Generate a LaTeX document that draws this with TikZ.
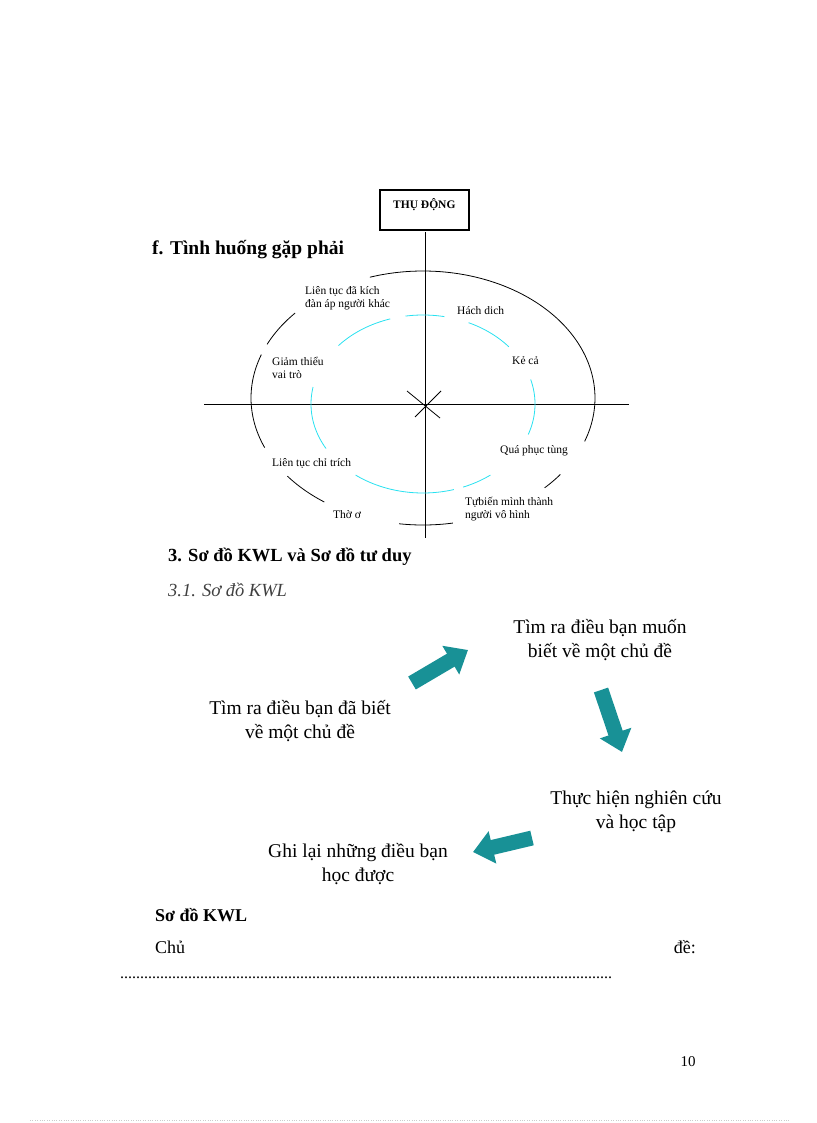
\documentclass[tikz,border=0pt]{standalone}
\usepackage{fontspec}
\setmainfont{Liberation Serif}
\usetikzlibrary{arrows.meta}
\definecolor{teal2}{RGB}{24,145,150}
\definecolor{cy}{RGB}{40,225,240}
\begin{document}
\begin{tikzpicture}[x=1pt,y=-1pt,
  lbl/.style={font=\fontsize{11.5}{13.5}\selectfont,align=left,inner sep=0pt,anchor=west},
  kwl/.style={font=\fontsize{19.5}{24}\selectfont,align=center,inner sep=0pt},
  head/.style={font=\fontsize{18.5}{22}\selectfont\bfseries,inner sep=0pt,anchor=west},
  bigarrow/.style={teal2,line width=15pt,-{Triangle[width=32pt,length=20pt]}},
  blk/.style={black,line width=0.8pt},
  cyn/.style={cy,line width=0.8pt}]
\useasboundingbox (0,0) rectangle (816,1123);
% box
\node[draw,line width=1.6pt,minimum width=89pt,minimum height=40pt,font=\fontsize{11.5}{13}\selectfont\bfseries,anchor=north west,text depth=13pt] (box) at (379,189) {THỤ ĐỘNG};
% axes
\coordinate (vt) at (425,232); \coordinate (vb) at (425,538);
\coordinate (hl) at (204,404); \coordinate (hr) at (629,404);
\draw[blk] (vt) -- (vb);
\draw[blk] (hl) -- (hr);
\coordinate (x1) at (407,391); \coordinate (x2) at (440,418);
\coordinate (x3) at (415,417); \coordinate (x4) at (441,391);
\draw[blk] (x1) -- (x2); \draw[blk] (x3) -- (x4);
% black ellipse arcs
\foreach \a/\b in {108/-20, -37/-45, -98/-80, -142/-125, 160/203, 138/155}
  \draw[blk,domain=\a:\b,samples=40,smooth] plot ({423+172*cos(\x)},{398-127*sin(\x)});
% cyan ellipse arcs
\foreach \a/\b in {79/99, 40/66, -20/16, -69/-53, -127/-74, 169/210, 107/139}
  \draw[cyn,domain=\a:\b,samples=40,smooth] plot ({423+112*cos(\x)},{404-89*sin(\x)});
% labels
\node[lbl] (l1) at (305,298) {Liên tục đã kích\\đàn áp người khác};
\node[lbl] (l2) at (457,311) {Hách dich};
\node[lbl] (l3) at (512,361) {Kẻ cả};
\node[lbl] (l4) at (272,368) {Giảm thiểu\\vai trò};
\node[lbl] (l5) at (272,463) {Liên tục chỉ trích};
\node[lbl] (l6) at (500,451) {Quá phục tùng};
\node[lbl] (l7) at (465,509) {Tựbiến mình thành\\người vô hình};
\node[lbl] (l8) at (333,515) {Thờ ơ};
% headings
\node[head,font=\fontsize{19.5}{22}\selectfont\bfseries] (h1) at (152,250) {f. Tình huống gặp phải};
\node[head] (h2) at (168,557) {3. Sơ đồ KWL và Sơ đồ tư duy};
\node[inner sep=0pt,anchor=west,font=\fontsize{18.5}{22}\selectfont\itshape,text=black!75] (h3) at (168,590) {3.1. Sơ đồ KWL};
% KWL
\node[kwl] (k1) at (600,640) {Tìm ra điều bạn muốn\\ biết về một chủ đề};
\node[kwl] (k2) at (300,721) {Tìm ra điều bạn đã biết\\về một chủ đề};
\node[kwl] (k3) at (636,812) {Thực hiện nghiên cứu\\ và học tập};
\node[kwl] (k4) at (358,864) {Ghi lại những điều bạn\\học được};
\coordinate (a1t) at (412,683); \coordinate (a1h) at (468,650);
\coordinate (a2t) at (601,690); \coordinate (a2h) at (622,752);
\coordinate (a3t) at (532,838); \coordinate (a3h) at (473,852);
\draw[bigarrow] (a1t) -- (a1h);
\draw[bigarrow] (a2t) -- (a2h);
\draw[bigarrow] (a3t) -- (a3h);
% bottom
\node[head,font=\fontsize{18}{22}\selectfont\bfseries] (s) at (155,915) {Sơ đồ KWL};
\node[inner sep=0pt,anchor=west,font=\fontsize{18}{22}\selectfont] (c1) at (155,947) {Chủ};
\node[inner sep=0pt,anchor=east,font=\fontsize{18}{22}\selectfont] (c2) at (696,947) {đề:};
\node[inner sep=0pt,anchor=west,font=\fontsize{16}{19}\selectfont] (dots) at (120,978) {\makebox[488pt]{\leaders\hbox to 4pt{\hss.\hss}\hfill}.};
\node[inner sep=0pt,font=\fontsize{15}{18}\selectfont] (pg) at (688,1062) {10};
\coordinate (bl) at (30,1120); \coordinate (br) at (790,1120);
\draw[black!20,dotted] (bl) -- (br);
\end{tikzpicture}
\end{document}
